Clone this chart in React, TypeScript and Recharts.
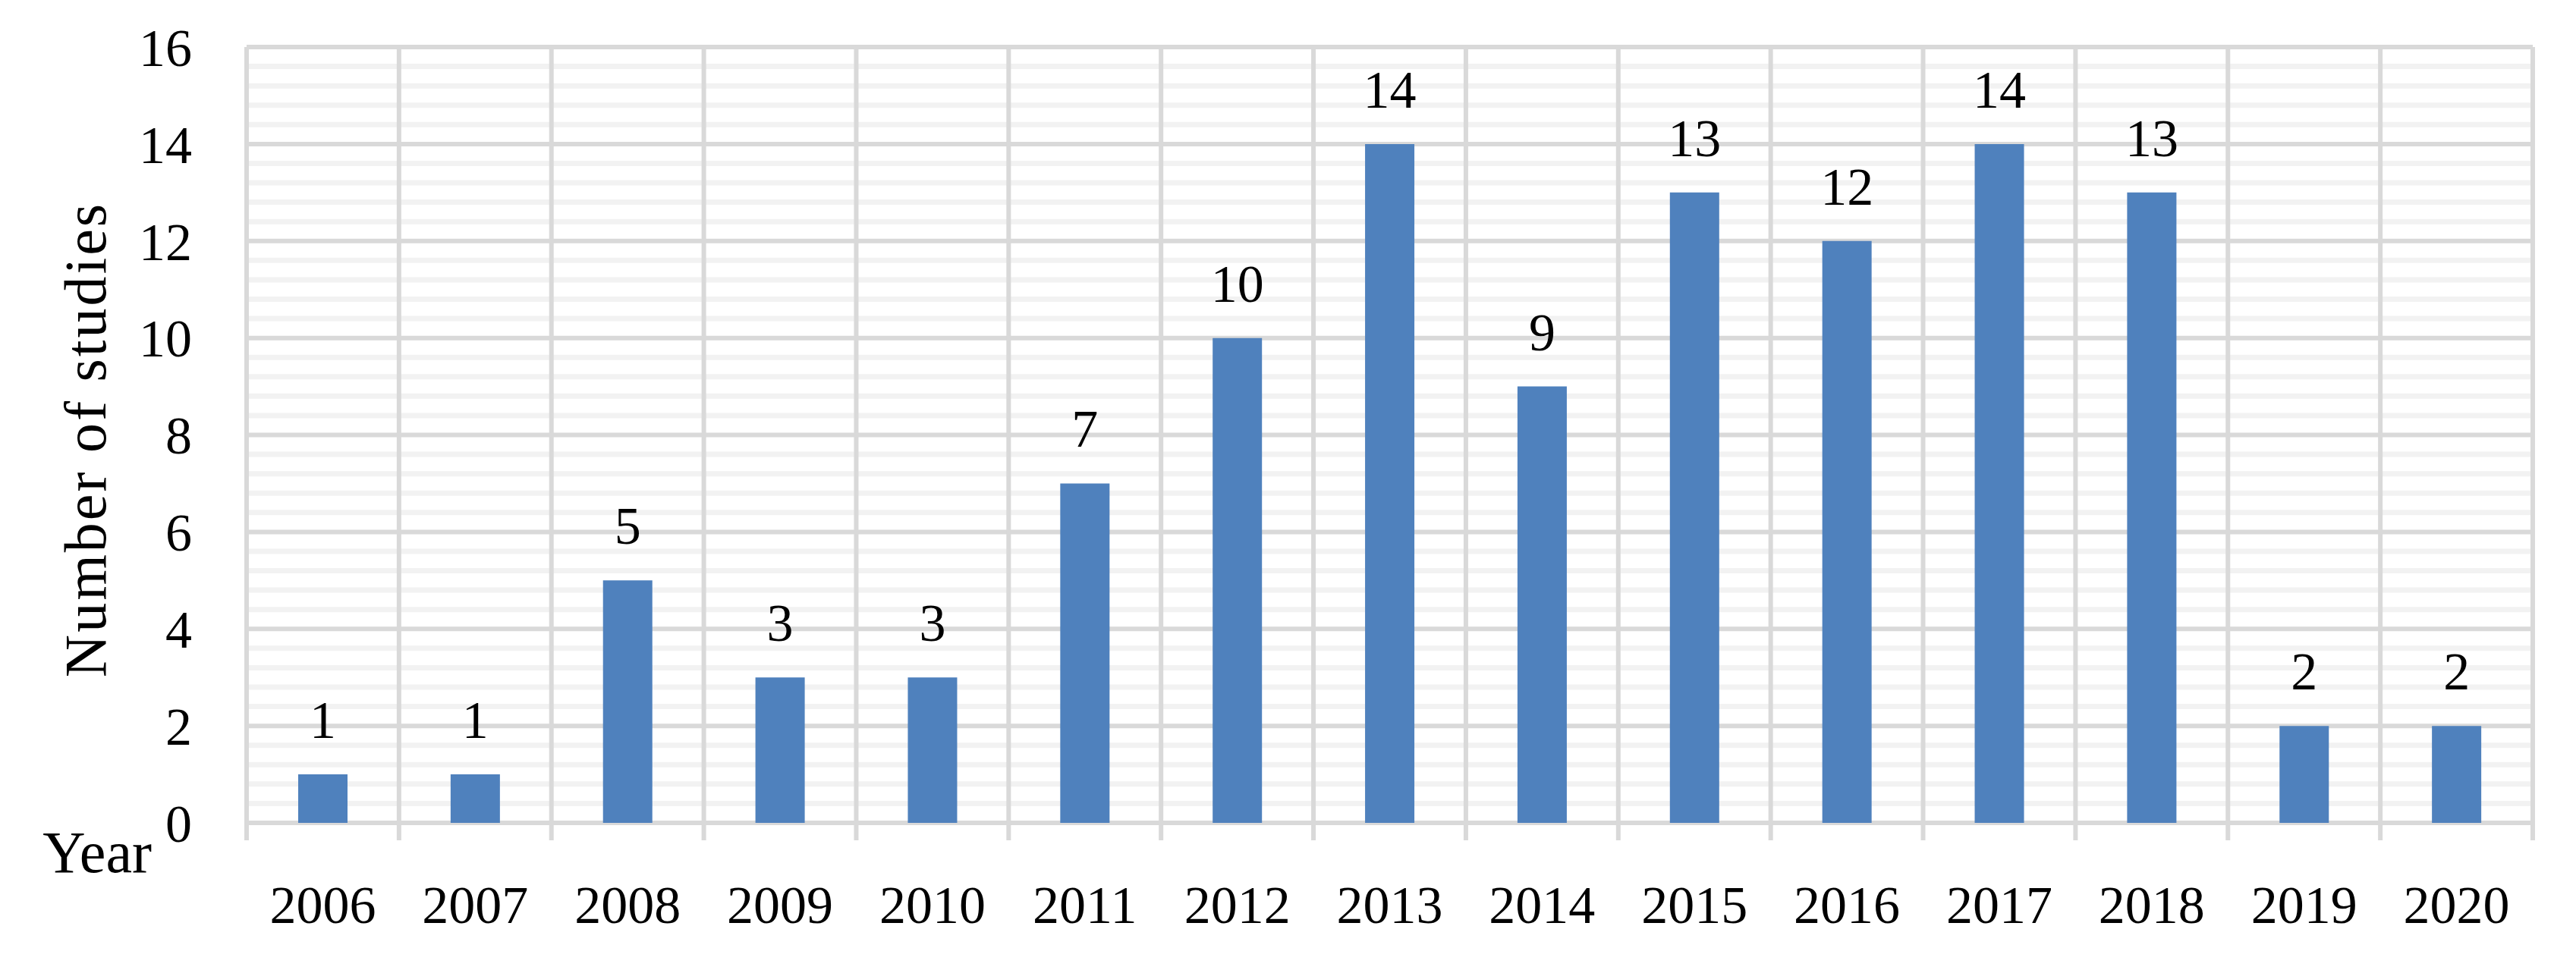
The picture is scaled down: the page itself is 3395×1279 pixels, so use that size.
import { Bar, BarChart, CartesianGrid, LabelList, XAxis, YAxis } from "recharts";

const YEARS = [
  "2006", "2007", "2008", "2009", "2010", "2011", "2012", "2013",
  "2014", "2015", "2016", "2017", "2018", "2019", "2020",
];
const STUDIES = [1, 1, 5, 3, 3, 7, 10, 14, 9, 13, 12, 14, 13, 2, 2];
const MAJOR_TICKS = [0, 2, 4, 6, 8, 10, 12, 14, 16];
const MINOR_STEPS = [0.4, 0.8, 1.2, 1.6];
const MINOR_TICKS = MAJOR_TICKS.slice(0, -1).flatMap((m) =>
  MINOR_STEPS.map((s) => m + s),
);
const Y_MAX = 16;

const COLORS = {
  bar: "#4f81bd",
  major: "#d9d9d9",
  minor: "#f2f2f2",
  text: "#000000",
};

const FONT = '"Liberation Serif", "Times New Roman", serif';
const TICK_SIZE = 70;
const TITLE_SIZE = 78;

const data = YEARS.map((year, i) => ({ year, count: STUDIES[i] }));

// minor lines every 0.4, through the y scale when we can get it
function minorLines({ yAxis, offset }: any) {
  const scale = yAxis?.scale;
  return MINOR_TICKS.map((v) => {
    const scaled = typeof scale === "function" ? scale(v) : undefined;
    if (typeof scaled === "number" && !Number.isNaN(scaled)) return scaled;
    return offset.top + offset.height * (1 - v / Y_MAX);
  });
}

function YearTick(props: any) {
  const { x, y, payload, index } = props;
  const half = payload?.offset ?? 100.4;
  const axisY = y - 82;
  return (
    <g>
      <line
        stroke={COLORS.major}
        strokeWidth={6}
        x1={x - half}
        x2={x - half}
        y1={axisY}
        y2={axisY + 23}
      />
      {index === YEARS.length - 1 ? (
        <line
          stroke={COLORS.major}
          strokeWidth={6}
          x1={x + half}
          x2={x + half}
          y1={axisY}
          y2={axisY + 23}
        />
      ) : null}
      <text
        dy="0.71em"
        fill={COLORS.text}
        fontFamily={FONT}
        fontSize={TICK_SIZE}
        textAnchor="middle"
        x={x}
        y={y}
      >
        {payload.value}
      </text>
    </g>
  );
}

function YearTitle(props: any) {
  const vb = props.viewBox ?? { x: 325, y: 1085 };
  return (
    <text
      fill={COLORS.text}
      fontFamily={FONT}
      fontSize={TITLE_SIZE}
      textAnchor="end"
      x={vb.x - 125}
      y={vb.y + 65}
    >
      Year
    </text>
  );
}

function StudiesTitle(props: any) {
  const vb = props.viewBox ?? { x: 0, y: 62, height: 1023 };
  const cx = vb.x + 139;
  const cy = vb.y + vb.height / 2 + 6;
  return (
    <text
      fill={COLORS.text}
      fontFamily={FONT}
      fontSize={TITLE_SIZE}
      letterSpacing={3}
      textAnchor="middle"
      transform={`translate(${cx}, ${cy}) rotate(-90)`}
    >
      Number of studies
    </text>
  );
}

export default function App() {
  return (
    <div
      style={{
        position: "absolute",
        left: 0,
        top: 0,
        width: 3395,
        height: 1279,
        background: "#ffffff",
      }}
    >
      <BarChart
        data={data}
        height={1279}
        margin={{ top: 62, right: 57, bottom: 0, left: 0 }}
        width={3395}
      >
        <CartesianGrid
          horizontalCoordinatesGenerator={minorLines}
          stroke={COLORS.minor}
          strokeWidth={7}
          vertical={false}
        />
        <CartesianGrid
          stroke={COLORS.major}
          strokeWidth={6}
          verticalCoordinatesGenerator={({ offset }: any) =>
            YEARS.concat([""]).map(
              (_, i) => offset.left + (i * offset.width) / YEARS.length,
            )
          }
        />
        <XAxis
          axisLine={false}
          dataKey="year"
          height={194}
          interval={0}
          label={YearTitle}
          tick={YearTick}
          tickLine={false}
          tickMargin={59}
          tickSize={23}
        />
        <YAxis
          axisLine={false}
          domain={[0, Y_MAX]}
          label={StudiesTitle}
          tick={{ fill: COLORS.text, fontFamily: FONT, fontSize: TICK_SIZE }}
          tickLine={false}
          tickMargin={72}
          tickSize={0}
          ticks={MAJOR_TICKS}
          width={325}
        />
        <Bar
          barSize={65}
          dataKey="count"
          fill={COLORS.bar}
          isAnimationActive={false}
        >
          <LabelList
            dataKey="count"
            fill={COLORS.text}
            fontFamily={FONT}
            fontSize={TICK_SIZE}
            offset={48}
            position="top"
          />
        </Bar>
      </BarChart>
    </div>
  );
}
